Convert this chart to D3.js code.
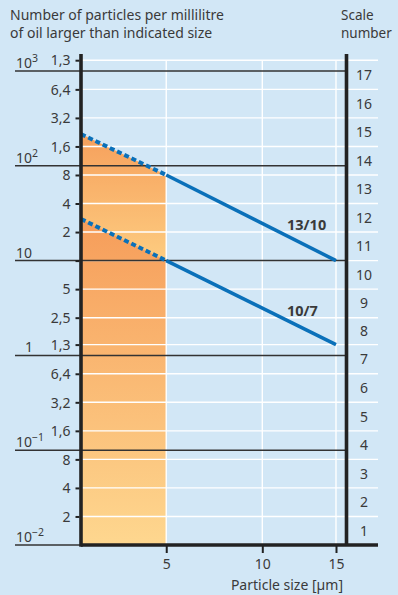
<!DOCTYPE html>
<html>
<head>
<meta charset="utf-8">
<script src="https://cdn.jsdelivr.net/npm/d3@7"></script>
<style>
  html, body { margin: 0; padding: 0; background: #d2e7f6; }
  svg { display: block; }
  text { font-family: "Noto Sans", sans-serif; fill: #3a3a3a; }
</style>
</head>
<body>
<svg id="chart" width="398" height="595"></svg>
<script>
// ISO 4406 style contamination chart: cumulative particle counts per ml vs particle size

// Boundary tick labels on the left axis (particles per ml)
const tickLabels = ["1,3", "6,4", "3,2", "1,6", "8", "4", "2", "", "5", "2,5", "1,3", "6,4", "3,2", "1,6", "8", "4", "2"];
const tickValues = [1300, 640, 320, 160, 80, 40, 20, 10, 5, 2.5, 1.3, 0.64, 0.32, 0.16, 0.08, 0.04, 0.02];

// Range boundaries for each scale number (lowest to highest)
const boundaries = [0.01, 0.02, 0.04, 0.08, 0.16, 0.32, 0.64, 1.3, 2.5, 5, 10, 20, 40, 80, 160, 320, 640, 1300];
const scaleNumbers = d3.range(1, 18);

// Decade reference lines
const decadeValues = [1000, 100, 10, 1, 0.1, 0.01];
const decadeBase = ["10", "10", "10", "1", "10", "10"];
const decadeExp = ["3", "2", "", "", "\u22121", "\u22122"];

// Particle size axis
const sizeTicks = [5, 10, 15];

// Cleanliness code lines: [size µm, particles/ml]
const code1310 = [[5, 80], [15, 10]];
const code107 = [[5, 10], [15, 1.3]];
// Extrapolation toward 2 µm
const code1310Ext = [[2, 216], [5, 80]];
const code107Ext = [[2, 27.5], [5, 10]];
const codeLabels = ["13/10", "10/7"];

const svg = d3.select("#chart");

const x = d3.scalePow().exponent(0.5).domain([2, 15]).range([81, 336]);
const y = d3.scaleLog().domain([0.01, 1000]).range([545, 71]);

const axisX = x(2), rightX = 346.5, gridRight = 378, topY = 54, bottomY = y(0.01);

// Gradients for the shaded region below 5 µm
const defs = svg.append("defs");
function grad(id, y1, y2, c1, c2) {
  const g = defs.append("linearGradient").attr("id", id)
    .attr("gradientUnits", "userSpaceOnUse")
    .attr("x1", 0).attr("x2", 0).attr("y1", y1).attr("y2", y2);
  g.append("stop").attr("offset", 0).attr("stop-color", c1);
  g.append("stop").attr("offset", 1).attr("stop-color", c2);
}
grad("bandUpper", y(code1310Ext[0][1]), y(code107Ext[1][1]), "#f6a05c", "#fdcc80");
grad("bandLower", y(code107Ext[0][1]), bottomY, "#f69d5a", "#fed78f");

// Shaded areas (upper from 13/10 line down, lower from 10/7 line down)
const area = d3.area().x(d => x(d[0])).y0(bottomY).y1(d => y(d[1]));
svg.append("path").datum(code1310Ext).attr("d", area).attr("fill", "url(#bandUpper)");
svg.append("path").datum(code107Ext).attr("d", area).attr("fill", "url(#bandLower)");

// White horizontal gridlines at scale boundaries
svg.append("g").selectAll("line").data(boundaries.slice(1)).join("line")
  .attr("x1", axisX).attr("x2", gridRight)
  .attr("y1", d => y(d)).attr("y2", d => y(d))
  .attr("stroke", "#ffffff").attr("stroke-width", 1.4);

// White vertical gridlines at particle sizes
svg.append("g").selectAll("line").data(sizeTicks).join("line")
  .attr("x1", d => x(d)).attr("x2", d => x(d))
  .attr("y1", y(1300)).attr("y2", bottomY)
  .attr("stroke", "#ffffff").attr("stroke-width", 1.4);

// Decade lines
svg.append("g").selectAll("line").data(decadeValues.slice(0, 5)).join("line")
  .attr("x1", 15).attr("x2", rightX)
  .attr("y1", d => y(d)).attr("y2", d => y(d))
  .attr("stroke", "#333").attr("stroke-width", 1.5);
svg.append("line").attr("x1", 15).attr("x2", axisX)
  .attr("y1", bottomY).attr("y2", bottomY)
  .attr("stroke", "#333").attr("stroke-width", 1.5);

// Decade labels
const dl = svg.append("g").selectAll("text").data(decadeValues).join("text")
  .attr("y", d => y(d) - 3)
  .attr("font-size", 14);
dl.each(function (d, i) {
  const t = d3.select(this);
  if (decadeBase[i] === "1") {
    t.attr("x", 33).attr("text-anchor", "end").text("1");
  } else {
    t.attr("x", 16);
    t.append("tspan").text(decadeBase[i]);
    if (decadeExp[i]) t.append("tspan").attr("dy", -6).attr("font-size", 10.5).text(decadeExp[i]);
  }
});

// Code lines: dashed extrapolation and solid part
const line = d3.line().x(d => x(d[0])).y(d => y(d[1]));
[code1310Ext, code107Ext].forEach(d => {
  svg.append("path").datum(d).attr("d", line)
    .attr("fill", "none").attr("stroke", "#0a70b9")
    .attr("stroke-width", 4).attr("stroke-dasharray", "5,3");
});
[code1310, code107].forEach(d => {
  svg.append("path").datum(d).attr("d", line)
    .attr("fill", "none").attr("stroke", "#0a70b9")
    .attr("stroke-width", 3.5);
});

// Code labels
svg.append("text").attr("x", 287).attr("y", 230).attr("font-size", 14.5)
  .attr("font-weight", "bold").attr("fill", "#333").text(codeLabels[0]);
svg.append("text").attr("x", 287).attr("y", 316).attr("font-size", 14.5)
  .attr("font-weight", "bold").attr("fill", "#333").text(codeLabels[1]);

// Left axis with boundary ticks
const yAxis = d3.axisLeft(y).tickValues(tickValues)
  .tickFormat((d, i) => tickLabels[i]).tickSize(4).tickPadding(5);
const gy = svg.append("g").attr("transform", `translate(${axisX - 1.5},0)`).call(yAxis);
gy.select(".domain").remove();
gy.selectAll(".tick line").attr("stroke", "#222").attr("stroke-width", 2);
gy.selectAll(".tick text").attr("font-size", 14).attr("font-family", "Noto Sans, sans-serif")
  .attr("fill", "#3a3a3a").attr("dy", "0.34em");

// Bottom axis with size ticks
const xAxis = d3.axisBottom(x).tickValues(sizeTicks).tickSize(8).tickPadding(6);
const gx = svg.append("g").attr("transform", `translate(0,${bottomY})`).call(xAxis);
gx.select(".domain").remove();
gx.selectAll(".tick line").attr("stroke", "#222").attr("stroke-width", 2);
gx.selectAll(".tick text").attr("font-size", 14).attr("font-family", "Noto Sans, sans-serif")
  .attr("fill", "#3a3a3a");

// Axis frame lines
svg.append("line").attr("x1", axisX).attr("x2", axisX).attr("y1", topY).attr("y2", bottomY + 1.8)
  .attr("stroke", "#222").attr("stroke-width", 3.6);
svg.append("line").attr("x1", rightX).attr("x2", rightX).attr("y1", topY).attr("y2", bottomY)
  .attr("stroke", "#222").attr("stroke-width", 3.6);
svg.append("line").attr("x1", axisX).attr("x2", gridRight).attr("y1", bottomY).attr("y2", bottomY)
  .attr("stroke", "#222").attr("stroke-width", 3.6);

// Scale numbers on the right
svg.append("g").selectAll("text").data(scaleNumbers).join("text")
  .attr("x", 364).attr("text-anchor", "middle")
  .attr("y", (d, i) => y(Math.sqrt(boundaries[i] * boundaries[i + 1])))
  .attr("dy", "0.36em").attr("font-size", 14).text(d => d);

// Titles
const title = svg.append("text").attr("x", 10).attr("y", 20).attr("font-size", 14);
title.append("tspan").attr("x", 10).text("Number of particles per millilitre");
title.append("tspan").attr("x", 10).attr("dy", 18).text("of oil larger than indicated size");

const scaleTitle = svg.append("text").attr("x", 341).attr("y", 20).attr("font-size", 13.5);
scaleTitle.append("tspan").attr("x", 341).text("Scale");
scaleTitle.append("tspan").attr("x", 341).attr("dy", 18).text("number");

svg.append("text").attr("x", 343).attr("y", 590).attr("text-anchor", "end")
  .attr("font-size", 14).text("Particle size [\u00b5m]");
</script>
</body>
</html>
